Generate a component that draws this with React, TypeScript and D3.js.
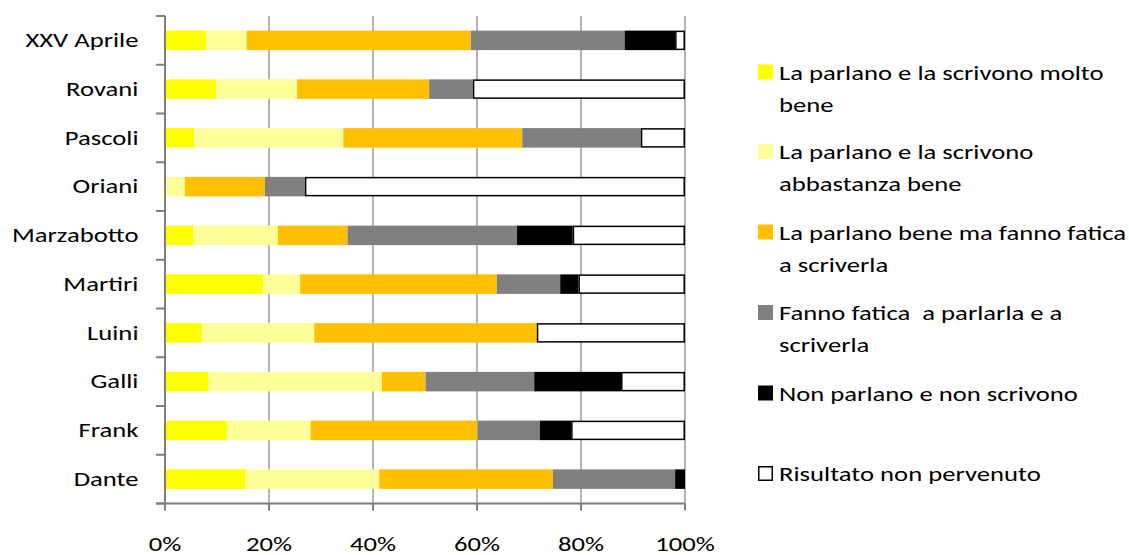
import React from "react";
import * as d3 from "d3";

// Schools, top to bottom
const schools = [
  "XXV Aprile",
  "Rovani",
  "Pascoli",
  "Oriani",
  "Marzabotto",
  "Martiri",
  "Luini",
  "Galli",
  "Frank",
  "Dante",
];

// Share of pupils (%) per school, one array per language level
const moltoBene = [7.9, 9.8, 5.6, 0, 5.4, 18.9, 7.1, 8.3, 11.9, 15.5];
const abbastanzaBene = [7.8, 15.6, 28.7, 3.8, 16.3, 7.1, 21.6, 33.4, 16.1, 25.7];
const faticaScrivere = [43.1, 25.4, 34.4, 15.4, 13.4, 37.8, 42.8, 8.4, 32.1, 33.4];
const faticaParlare = [29.6, 8.4, 22.8, 7.7, 32.6, 12.2, 0, 20.9, 12.0, 23.5];
const nonParlano = [9.7, 0, 0, 0, 10.7, 3.5, 0, 16.7, 6.0, 1.9];
const nonPervenuto = [1.9, 40.8, 8.5, 73.1, 21.6, 20.5, 28.5, 12.3, 21.9, 0];

const seriesNames = [
  ["La parlano e la scrivono molto", "bene"],
  ["La parlano e la scrivono", "abbastanza bene"],
  ["La parlano bene ma fanno fatica", "a scriverla"],
  ["Fanno fatica  a parlarla e a", "scriverla"],
  ["Non parlano e non scrivono"],
  ["Risultato non pervenuto"],
];
const seriesColors = ["#FFFF00", "#FFFF99", "#FFC000", "#808080", "#000000", "#FFFFFF"];
const xTicks = [0, 20, 40, 60, 80, 100];

const allSeries = [moltoBene, abbastanzaBene, faticaScrivere, faticaParlare, nonParlano, nonPervenuto];

const FONT = "Carlito, Lato, 'Open Sans', sans-serif";
const FS = 21;
const SX = 1.27; // horizontal stretch of the labels

function Label({
  x,
  y,
  anchor = "start",
  children,
}: {
  x: number;
  y: number;
  anchor?: "start" | "middle" | "end";
  children: React.ReactNode;
}) {
  return (
    <text
      transform={`translate(${x},${y}) scale(${SX},1)`}
      textAnchor={anchor}
      fontSize={FS}
      fill="#000"
      style={{ whiteSpace: "pre" }}
    >
      {children}
    </text>
  );
}

export default function App() {
  const width = 1129;
  const height = 555;
  const left = 165;
  const right = 685;
  const top = 16;
  const bottom = 503.5;

  const x = d3.scaleLinear().domain([0, 100]).range([left, right]);
  const y = d3
    .scaleBand<string>()
    .domain(schools)
    .range([top, bottom])
    .paddingInner(0.6)
    .paddingOuter(0.3);
  const step = (bottom - top) / schools.length;

  const rows = schools.map((s, i) => {
    const vals = allSeries.map((a) => a[i]);
    const total = d3.sum(vals);
    let acc = 0;
    return vals.map((v, k) => {
      const pct = (v / total) * 100;
      const seg = { key: k, s, x0: acc, x1: acc + pct };
      acc += pct;
      return seg;
    });
  });

  const legendX = 758;
  const legendBase = [79.5, 159, 239.5, 320, 400.5, 481];

  return (
    <svg
      width={width}
      height={height}
      style={{ position: "absolute", left: 0, top: 0, background: "#fff" }}
      fontFamily={FONT}
    >
      {/* vertical gridlines */}
      {xTicks.slice(1).map((t) => (
        <line key={t} x1={x(t)} x2={x(t)} y1={top} y2={bottom} stroke="#8c8c8c" strokeWidth={1.3} />
      ))}

      {/* stacked bars */}
      {rows.map((segs) =>
        segs.map((d) =>
          d.x1 - d.x0 > 0 ? (
            d.key === 5 ? (
              <rect
                key={d.s + d.key}
                x={x(d.x0) + 0.75}
                y={y(d.s)! + 0.75}
                width={x(d.x1) - x(d.x0) - 1.5}
                height={y.bandwidth() - 1.5}
                fill="#fff"
                stroke="#000"
                strokeWidth={1.5}
              />
            ) : (
              <rect
                key={d.s + d.key}
                x={x(d.x0)}
                y={y(d.s)!}
                width={x(d.x1) - x(d.x0)}
                height={y.bandwidth()}
                fill={seriesColors[d.key]}
              />
            )
          ) : null
        )
      )}

      {/* category axis */}
      <line x1={left} x2={left} y1={top} y2={bottom} stroke="#7f7f7f" strokeWidth={2} />
      {d3.range(schools.length + 1).map((i) => (
        <line
          key={i}
          x1={left - 9}
          x2={left}
          y1={top + i * step}
          y2={top + i * step}
          stroke="#7f7f7f"
          strokeWidth={2}
        />
      ))}
      {schools.map((s) => (
        <Label key={s} x={138.5} y={y(s)! + y.bandwidth() / 2 + 6.8} anchor="end">
          {s}
        </Label>
      ))}

      {/* value axis */}
      <line x1={left - 9} x2={right} y1={bottom} y2={bottom} stroke="#7f7f7f" strokeWidth={2} />
      {xTicks.map((t) => (
        <g key={t}>
          <line x1={x(t)} x2={x(t)} y1={bottom} y2={bottom + 7} stroke="#7f7f7f" strokeWidth={2} />
          <Label x={x(t)} y={550.5} anchor="middle">
            {`${t}%`}
          </Label>
        </g>
      ))}

      {/* legend */}
      {seriesNames.map((lines, k) => (
        <g key={k}>
          <rect
            x={k === 5 ? legendX + 0.75 : legendX}
            y={legendBase[k] - 15 + (k === 5 ? 0.75 : 0)}
            width={k === 5 ? 13.5 : 15}
            height={k === 5 ? 13.5 : 15}
            fill={seriesColors[k]}
            stroke={k === 5 ? "#000" : "none"}
            strokeWidth={1.5}
          />
          {lines.map((ln, j) => (
            <Label key={j} x={779} y={legendBase[k] + j * 32}>
              {ln}
            </Label>
          ))}
        </g>
      ))}
    </svg>
  );
}
